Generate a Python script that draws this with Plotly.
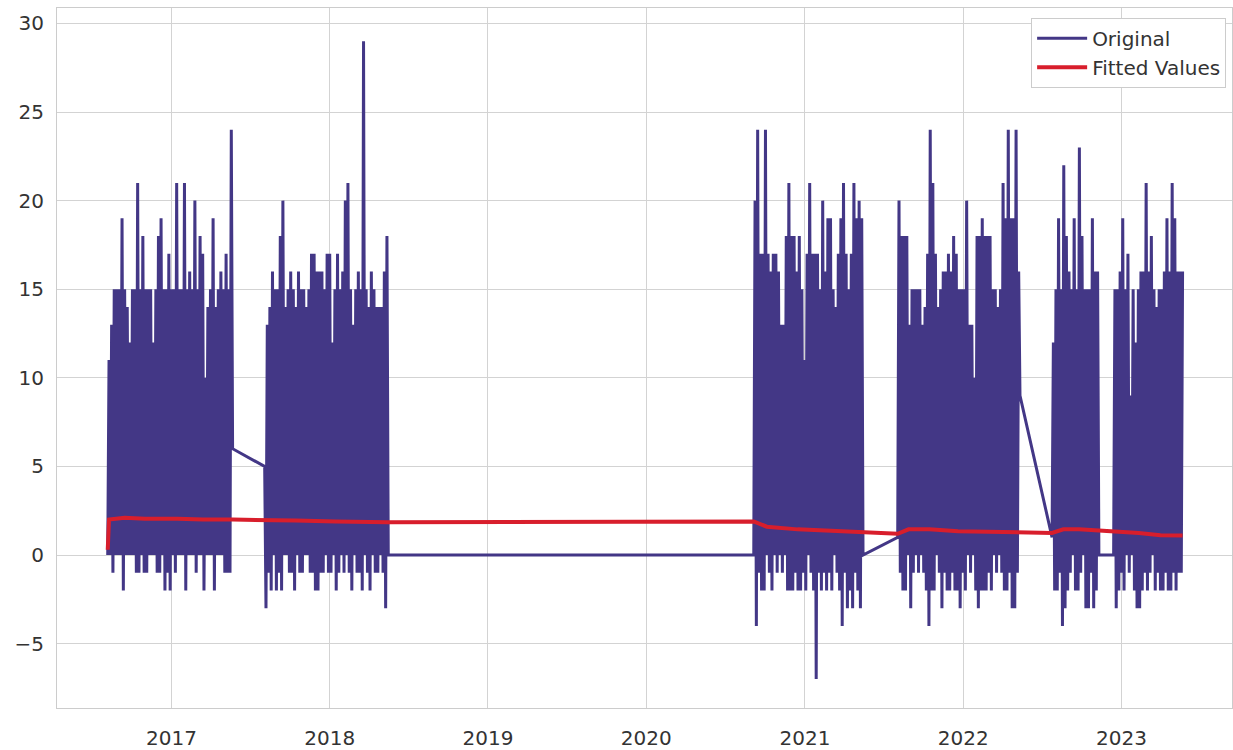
import pandas as pd
import plotly.graph_objects as go

# ---- data ----
seg_starts = ["2016-08-07", "2017-08-04", "2020-09-05", "2021-08-03", "2022-07-25", "2022-12-14"]
seg_step = "3D"

seg1_values = [0, 11, 0, 13, -1, 15, 0, 15, 0, 15, 0, 19, -2, 15, 0, 14, 0, 12, 0, 15, 0, 15, -1, 21,
               -1, 15, 0, 18, -1, 15, -1, 15, 0, 15, 0, 12, 0, 15, -1, 18, -1, 19, 0, 15, -2, 15, -1, 17,
               -2, 15, 0, 15, -1, 21, 0, 15, 0, 15, 0, 21, -2, 15, 0, 16, 0, 15, 0, 20, -1, 15, 0, 18,
               0, 17, -2, 10, 0, 14, 0, 15, 0, 19, -2, 14, 0, 15, 0, 16, 0, 15, -1, 17, -1, 15, -1, 24, 6]
seg2_values = [5, -3, 13, -1, 14, -2, 16, 0, 15, -2, 15, -1, 18, -2, 20, 0, 14, 0, 15, -1, 16, -1, 15,
               -2, 14, 0, 16, -1, 15, -1, 15, 0, 14, 0, 15, -1, 17, -1, 17, -2, 16, -2, 16, -1, 16,
               -1, 15, 0, 17, -1, 17, -1, 12, 0, 15, -2, 17, -1, 15, 0, 16, -1, 20, 0, 21, -1, 15,
               -2, 13, 0, 15, -1, 16, -1, 15, -2, 29, 0, 15, -1, 14, -2, 16, 0, 15, -1, 14, -1, 14,
               0, 14, -1, 16, -3, 18, 0]
seg3_values = [0, 20, -4, 24, -1, 17, -2, 17, -2, 24, 0, 17, -1, 16, -2, 17, 0, 17, -1, 16, 0, 13, -1, 13,
               0, 18, -2, 21, -2, 18, -2, 18, -1, 16, -2, 18, -2, 15, -1, 11, -2, 17, 0, 21, -1, 17,
               -2, 17, -7, 17, -1, 15, -2, 20, -1, 16, -2, 19, -1, 19, -2, 15, 0, 14, -1, 17, -2, 19,
               -4, 21, -1, 17, -3, 15, -2, 17, -3, 21, -1, 19, -2, 20, -3, 19, 0]
seg4_values = [1, 20, -1, 18, -2, 18, -2, 18, 0, 13, -3, 15, -1, 15, 0, 15, -1, 15, 0, 13, -1, 14, -2, 17,
               -4, 24, -2, 21, -2, 17, 0, 14, -1, 15, -3, 16, -1, 16, -2, 17, -2, 16, -1, 18, -2, 17,
               -2, 15, -3, 15, -1, 15, -2, 20, 0, 13, -1, 13, 0, 10, -2, 18, -3, 18, -2, 19, -2, 18,
               -2, 18, -1, 18, -2, 15, 0, 15, -1, 14, 0, 15, -1, 21, -2, 19, -2, 24, -1, 19, -3, 19,
               -3, 24, -1, 16, 9]
seg5_values = [1, 12, -2, 15, -2, 19, -1, 15, -4, 22, -3, 18, -2, 16, -1, 15, 0, 19, -2, 15, -2, 23,
               -1, 18, 0, 15, -3, 15, -3, 15, -1, 19, -3, 16, -2, 16, 0]
seg6_values = [0, 15, -3, 15, -2, 16, -1, 19, -2, 15, 0, 17, -1, 9, 0, 15, -2, 12, -3, 15, -3, 16,
               -2, 16, -1, 21, -2, 16, -1, 18, 0, 15, -2, 14, -1, 15, -2, 15, -2, 16, -1, 19, -2, 16,
               -2, 21, -1, 19, -2, 16, -1, 16, -1, 16]

fitted_dates = ["2016-08-07", "2016-08-10", "2016-09-15", "2016-11-01", "2017-01-15", "2017-03-15",
                "2017-05-22", "2017-08-04", "2017-10-15", "2018-01-15", "2018-05-15", "2020-09-05",
                "2020-10-05", "2020-12-15", "2021-03-01", "2021-05-19", "2021-08-03", "2021-08-28",
                "2021-10-15", "2021-12-20", "2022-03-01", "2022-05-16", "2022-07-25", "2022-08-20",
                "2022-09-25", "2022-11-10", "2022-12-14", "2023-02-10", "2023-04-01", "2023-05-22"]
fitted_values = [0.3, 2.0, 2.1, 2.05, 2.05, 2.0,
                 2.0, 1.95, 1.95, 1.9, 1.85, 1.9,
                 1.6, 1.45, 1.35, 1.25, 1.2, 1.45,
                 1.45, 1.35, 1.3, 1.25, 1.25, 1.45,
                 1.45, 1.38, 1.35, 1.25, 1.12, 1.1]

year_ticks = ["2017-01-01", "2018-01-01", "2019-01-01", "2020-01-01",
              "2021-01-01", "2022-01-01", "2023-01-01"]
year_labels = ["2017", "2018", "2019", "2020", "2021", "2022", "2023"]
y_ticks = [-5, 0, 5, 10, 15, 20, 25, 30]

# ---- build series ----
segments = [seg1_values, seg2_values, seg3_values, seg4_values, seg5_values, seg6_values]
dates, values = [], []
for start, vals in zip(seg_starts, segments):
    dates.extend(pd.date_range(start, periods=len(vals), freq=seg_step))
    values.extend(vals)

fig = go.Figure()
fig.add_trace(go.Scatter(x=dates, y=values, mode="lines", name="Original",
                         line=dict(color="#433786", width=3, simplify=False)))
fig.add_trace(go.Scatter(x=pd.to_datetime(fitted_dates), y=fitted_values, mode="lines",
                         name="Fitted Values", line=dict(color="#d81e2c", width=4)))

font = dict(family="DejaVu Sans", size=20, color="#333333")
fig.update_layout(
    width=1233, height=750,
    margin=dict(l=57, r=1, t=8, b=42, autoexpand=False),
    paper_bgcolor="white", plot_bgcolor="white",
    font=font,
    showlegend=True,
    legend=dict(x=0.995, y=0.986, xanchor="right", yanchor="top",
                bgcolor="white", bordercolor="#cccccc", borderwidth=1,
                itemwidth=50,
                font=dict(family="DejaVu Sans", size=20, color="#333333")),
)
fig.update_xaxes(
    type="date", range=["2016-04-12", "2023-09-13"],
    tickvals=pd.to_datetime(year_ticks), ticktext=year_labels,
    showgrid=True, gridcolor="#d3d3d3", gridwidth=1,
    showline=True, linecolor="#cccccc", linewidth=1, mirror=True,
    zeroline=False, ticks="", ticklabelstandoff=12, automargin=False,
)
fig.update_yaxes(
    range=[-8.63, 30.87], tickvals=y_ticks,
    showgrid=True, gridcolor="#d3d3d3", gridwidth=1,
    showline=True, linecolor="#cccccc", linewidth=1, mirror=True,
    zeroline=False, ticks="", ticklabelstandoff=8, automargin=False,
)

fig.write_html("out.html", config={"displayModeBar": False},
               post_script="document.body.style.margin='0';")
